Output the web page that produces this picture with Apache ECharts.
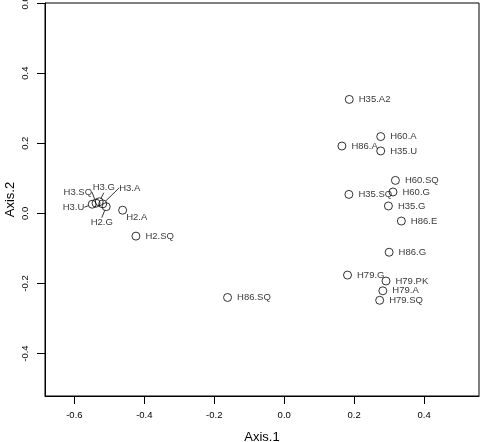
<!DOCTYPE html>
<html><head><meta charset="utf-8">
<script src="https://cdn.jsdelivr.net/npm/echarts@6/dist/echarts.min.js"></script>
<style>html,body{margin:0;padding:0;background:#fff}#c{width:481px;height:442px}</style>
</head><body><div id="c"></div>
<script>
const sampleNames = ["H3.U","H3.SQ","H3.G","H3.A","H2.G","H2.A","H2.SQ","H86.SQ",
  "H35.A2","H60.A","H86.A","H35.U","H60.SQ","H60.G","H35.SQ","H35.G","H86.E","H86.G",
  "H79.G","H79.PK","H79.A","H79.SQ"];
const axis1Values = [-0.549,-0.538,-0.529,-0.519,-0.509,-0.462,-0.424,-0.162,
  0.186,0.276,0.165,0.276,0.318,0.311,0.185,0.298,0.335,0.300,
  0.181,0.291,0.282,0.273];
const axis2Values = [0.026,0.029,0.033,0.027,0.019,0.009,-0.065,-0.240,
  0.325,0.219,0.192,0.178,0.094,0.061,0.054,0.021,-0.022,-0.111,
  -0.176,-0.193,-0.221,-0.248];
const xTicks = [-0.6,-0.4,-0.2,0.0,0.2,0.4];
const yTicks = [-0.4,-0.2,0.0,0.2,0.4,0.6];

// label displacement (relative to default right-hand label) for crowded points
const labelShift = {
  "H3.U": [-39, 3, true],
  "H3.SQ": [-42, -11, true],
  "H3.G": [-16, -14, true],
  "H3.A": [7, -16, true],
  "H2.G": [-25, 16, true],
  "H2.A": [-6, 7, false]
};

const data = sampleNames.map((n,i)=>{
  const it = {name:n, value:[axis1Values[i], axis2Values[i]]};
  if (labelShift[n] && labelShift[n][2]) it.labelLine = {show:true};
  return it;
});

const font = "'Liberation Sans', Arial, sans-serif";
const chart = echarts.init(document.getElementById('c'), null, {renderer:'canvas'});
chart.setOption({
  animation:false,
  grid:{left:45, right:2, top:3, bottom:46, containLabel:false, outerBoundsMode:'none',
    show:true, borderColor:'#000', borderWidth:1, backgroundColor:'transparent'},
  xAxis:{type:'value', min:-0.684, max:0.557, name:'Axis.1', nameLocation:'middle', nameGap:35,
    nameMoveOverlap:false,
    nameTextStyle:{fontFamily:font, fontSize:13, color:'#000'},
    splitLine:{show:false},
    axisLine:{show:true, onZero:false, lineStyle:{color:'#000', width:1}},
    axisTick:{show:true, length:8, customValues:xTicks, lineStyle:{color:'#000'}},
    axisLabel:{customValues:xTicks, margin:14, fontFamily:font, fontSize:9.5, color:'#000',
      formatter:v=>v.toFixed(1)}},
  yAxis:{type:'value', min:-0.521, max:0.6, name:'Axis.2', nameLocation:'middle', nameGap:28,
    nameMoveOverlap:false,
    nameTextStyle:{fontFamily:font, fontSize:13, color:'#000'},
    splitLine:{show:false},
    axisLine:{show:true, onZero:false, lineStyle:{color:'#000', width:1}},
    axisTick:{show:true, length:8, customValues:yTicks, lineStyle:{color:'#000'}},
    axisLabel:{customValues:yTicks, rotate:90, margin:15, fontFamily:font, fontSize:9.5, color:'#000',
      formatter:v=>v.toFixed(1)}},
  series:[{
    type:'scatter', data:data, symbol:'circle', symbolSize:8,
    itemStyle:{color:'rgba(0,0,0,0)', borderColor:'#000', borderWidth:1},
    label:{show:true, position:'right', distance:5, formatter:'{b}', fontFamily:font, fontSize:9.5, color:'#000'},
    labelLine:{show:false, lineStyle:{color:'#000', width:0.8}},
    labelLayout:function(p){
      const s = labelShift[sampleNames[p.dataIndex]];
      return s ? {dx:s[0], dy:s[1]} : {};
    },
    emphasis:{disabled:true}
  }]
});
</script></body></html>
